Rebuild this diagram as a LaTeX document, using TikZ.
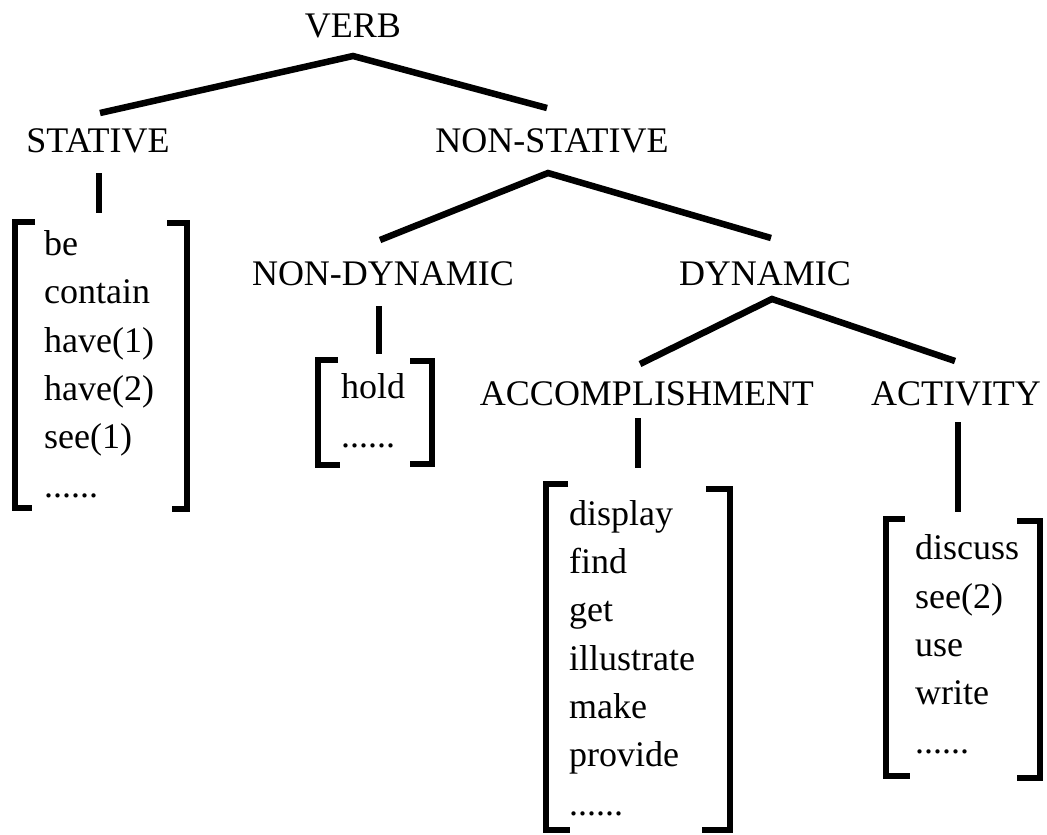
\documentclass[tikz,border=0pt]{standalone}
\usepackage{fontspec}
\setmainfont{Liberation Serif}
\begin{document}
\begin{tikzpicture}[x=1pt,y=-1pt,
  lab/.style={inner sep=0pt,anchor=base,font=\fontsize{36}{48}\selectfont},
  lst/.style={inner sep=0pt,anchor=base west,align=left,font=\fontsize{36}{48.3}\selectfont},
  br/.style={line width=6.5pt,line join=miter,line cap=butt},
  conn/.style={line width=6.5pt,line cap=butt}]
\useasboundingbox (0,0) rectangle (1047,835);
% labels
\node[lab] (verb) at (353,37) {VERB};
\node[lab] (stat) at (98,152) {STATIVE};
\node[lab] (nstat) at (552,152) {NON-STATIVE};
\node[lab] (ndyn) at (383,285) {NON-DYNAMIC};
\node[lab] (dyn) at (765,285) {DYNAMIC};
\node[lab] (acc) at (647,405) {ACCOMPLISHMENT};
\node[lab] (act) at (956,405) {ACTIVITY};
% lists (anchored at the baseline of their last line)
\node[lst] (l1) at (44,497) {be\\contain\\have(1)\\have(2)\\see(1)\\......};
\node[lst] (l2) at (341,447) {hold\\......};
\node[lst] (l3) at (569,815) {display\\find\\get\\illustrate\\make\\provide\\......};
\node[lst] (l4) at (915,753) {discuss\\see(2)\\use\\write\\......};
% connector endpoints
\coordinate (verbB) at (353,56);
\coordinate (statT) at (100,113);
\coordinate (nstatT) at (547,108);
\coordinate (nstatB) at (548,173);
\coordinate (ndynT) at (380,240);
\coordinate (dynT) at (771,238);
\coordinate (dynB) at (772,299);
\coordinate (accT) at (640,364);
\coordinate (actT) at (955,361);
\coordinate (statB) at (99,173);  \coordinate (l1T) at (99,213);
\coordinate (ndynB) at (379,306); \coordinate (l2T) at (379,354);
\coordinate (accB) at (638,418);  \coordinate (l3T) at (638,468);
\coordinate (actB) at (958,422);  \coordinate (l4T) at (958,512);
% tree connectors
\draw[conn] (statT) -- (verbB) -- (nstatT);
\draw[conn] (ndynT) -- (nstatB) -- (dynT);
\draw[conn] (accT) -- (dynB) -- (actT);
\draw[conn] (statB) -- (l1T);
\draw[conn] (ndynB) -- (l2T);
\draw[conn] (accB) -- (l3T);
\draw[conn] (actB) -- (l4T);
% brackets
\draw[br] (35,222) -- (15,222) -- (15,508) -- (32,508);
\draw[br] (167,223) -- (187,223) -- (187,509) -- (172,509);
\draw[br] (338,360) -- (318,360) -- (318,465) -- (340,465);
\draw[br] (410,361) -- (432,361) -- (432,464) -- (410,464);
\draw[br] (568,484) -- (546,484) -- (546,830) -- (570,830);
\draw[br] (706,489) -- (730,489) -- (730,830) -- (702,830);
\draw[br] (905,519) -- (886,519) -- (886,776) -- (910,776);
\draw[br] (1017,521) -- (1040,521) -- (1040,778) -- (1017,778);
\end{tikzpicture}
\end{document}
